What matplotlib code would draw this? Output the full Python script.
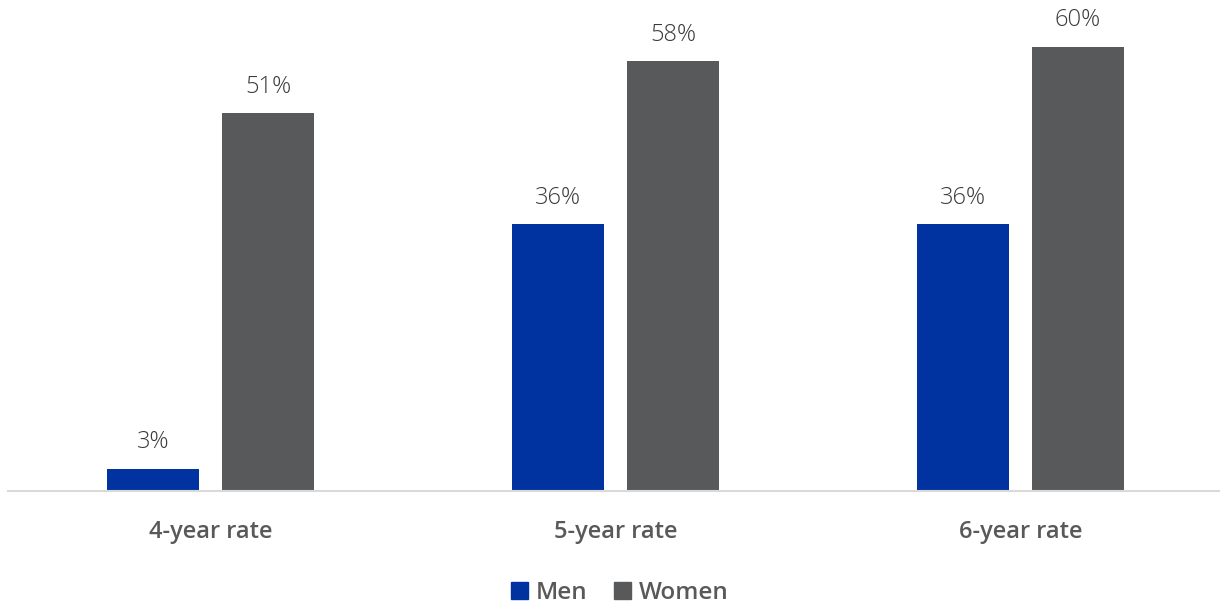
import matplotlib
matplotlib.use("Agg")
import matplotlib.pyplot as plt
import numpy as np
from matplotlib.patches import Patch

categories = ["4-year rate", "5-year rate", "6-year rate"]
men = [3, 36, 36]
women = [51, 58, 60]

plt.rcParams["font.family"] = ["Open Sans", "DejaVu Sans"]

color_men = "#0033A0"
color_women = "#58595B"

fig = plt.figure(figsize=(12.2, 6.03), dpi=100)
ax = fig.add_axes([8 / 1220, 112 / 603, 1215 / 1220, 491 / 603])

x = np.arange(len(categories))
w = 0.227
off = 0.142
b1 = ax.bar(x - off, men, w, color=color_men, zorder=2)
b2 = ax.bar(x + off, women, w, color=color_women, zorder=2)

for bars, vals in ((b1, men), (b2, women)):
    for r, v in zip(bars, vals):
        ax.annotate(f"{v}%", (r.get_x() + r.get_width() / 2, r.get_height()),
                    xytext=(0, 19), textcoords="offset points",
                    ha="center", va="center", fontsize=17,
                    color="#3a3a3a", fontweight="light")

ax.set_xlim(-0.5, 2.5)
ax.set_ylim(0, 66.3)
ax.set_yticks([])
ax.set_xticks(x)
ax.set_xticklabels(categories, fontsize=17, color="#595959", fontweight="semibold")
ax.tick_params(axis="x", length=0, pad=21)
for s in ("top", "right", "left"):
    ax.spines[s].set_visible(False)
ax.spines["bottom"].set_color("#D9D9D9")
ax.spines["bottom"].set_linewidth(1.5)

handles = [Patch(color=color_men, label="Men"), Patch(color=color_women, label="Women")]
fig.legend(handles=handles, loc="center", bbox_to_anchor=(0.508, 10 / 603),
           ncol=2, frameon=False, handlelength=0.7, handleheight=0.7,
           handletextpad=0.3, columnspacing=1.1, labelcolor="#595959",
           prop={"weight": "semibold", "size": 17.5})

fig.savefig("out.png", dpi=100, facecolor="white")
